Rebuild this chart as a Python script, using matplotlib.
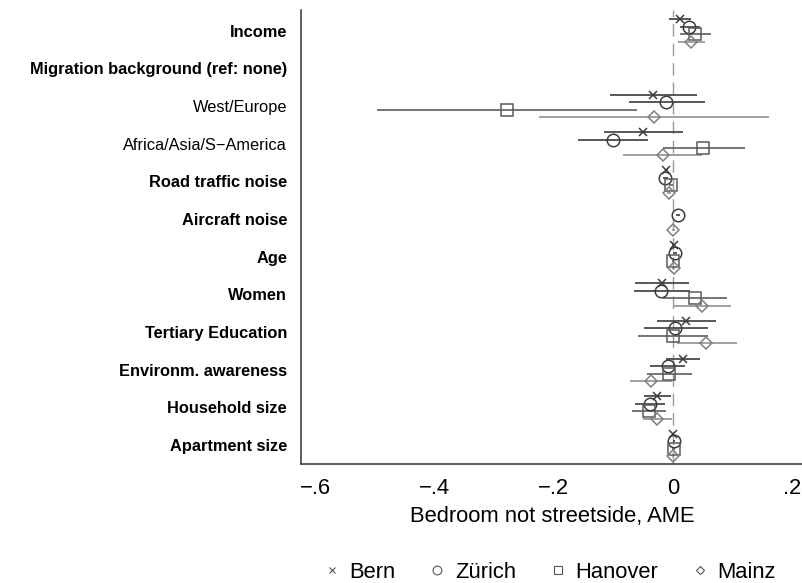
import numpy as np
import matplotlib
matplotlib.use("Agg")
import matplotlib.pyplot as plt
from matplotlib.lines import Line2D

plt.rcParams['font.family'] = ['Liberation Sans', 'DejaVu Sans']

nan = np.nan

# Rows, top to bottom
labels = ['Income', 'Migration background (ref: none)', 'West/Europe',
          'Africa/Asia/S\u2212America', 'Road traffic noise', 'Aircraft noise',
          'Age', 'Women', 'Tertiary Education', 'Environm. awareness',
          'Household size', 'Apartment size']
bold_rows = [True, True, False, False, True, True, True, True, True, True, True, True]

cities = ['Bern', 'Zürich', 'Hanover', 'Mainz']

# Average marginal effects and 95% CI
bern_est = [0.012, nan, -0.033, -0.050, -0.011, nan, 0.001, -0.018, 0.022, 0.017, -0.026, 0.000]
bern_lo = [-0.006, nan, -0.106, -0.116, -0.014, nan, -0.001, -0.063, -0.027, -0.011, -0.049, -0.002]
bern_hi = [0.030, nan, 0.041, 0.017, -0.008, nan, 0.003, 0.027, 0.072, 0.045, -0.004, 0.002]

zurich_est = [0.027, nan, -0.011, -0.101, -0.013, 0.008, 0.003, -0.020, 0.004, -0.009, -0.039, 0.002]
zurich_lo = [0.012, nan, -0.073, -0.160, -0.017, 0.005, 0.000, -0.065, -0.049, -0.039, -0.064, 0.000]
zurich_hi = [0.045, nan, 0.054, -0.042, -0.009, 0.011, 0.006, 0.029, 0.058, 0.020, -0.013, 0.004]

hanover_est = [0.037, nan, -0.279, 0.051, -0.003, nan, 0.000, 0.037, 0.000, -0.006, -0.040, 0.001]
hanover_lo = [0.012, nan, -0.496, -0.016, -0.006, nan, -0.002, -0.016, -0.058, -0.044, -0.068, -0.001]
hanover_hi = [0.063, nan, -0.061, 0.121, 0.000, nan, 0.002, 0.090, 0.059, 0.032, -0.012, 0.003]

mainz_est = [0.031, nan, -0.032, -0.017, -0.007, 0.0005, 0.001, 0.049, 0.056, -0.037, -0.026, 0.000]
mainz_lo = [0.009, nan, -0.225, -0.083, -0.010, -0.002, -0.001, 0.000, 0.006, -0.072, -0.050, -0.002]
mainz_hi = [0.054, nan, 0.161, 0.048, -0.004, 0.003, 0.003, 0.097, 0.107, -0.002, -0.001, 0.002]

xticks = [-0.6, -0.4, -0.2, 0, 0.2]
xticklabels = ['\u2212.6', '\u2212.4', '\u2212.2', '0', '.2']

# marker, size, marker color, line color
styles = {
    'Bern': ('x', 6, '#3c3c3c', '#4a4a4a'),
    'Zürich': ('o', 9, '#3c3c3c', '#4a4a4a'),
    'Hanover': ('s', 8, '#5a5a5a', '#6a6a6a'),
    'Mainz': ('D', 6.3, '#7f7f7f', '#999999'),
}
offsets = [-0.3, -0.1, 0.1, 0.3]


def main():
    fig = plt.figure(figsize=(8.03, 5.83), dpi=100)
    ax = fig.add_axes([301 / 803, 1 - 464 / 583, 502 / 803, 454 / 583])

    data = {
        'Bern': (bern_est, bern_lo, bern_hi),
        'Zürich': (zurich_est, zurich_lo, zurich_hi),
        'Hanover': (hanover_est, hanover_lo, hanover_hi),
        'Mainz': (mainz_est, mainz_lo, mainz_hi),
    }

    # zero reference line
    ax.axvline(0, color='#9a9a9a', lw=1.0, dashes=(9, 5), zorder=1)

    rows = np.arange(len(labels))
    handles = []
    for city, off in zip(cities, offsets):
        est, lo, hi = (np.array(v, dtype=float) for v in data[city])
        marker, ms, mc, lc = styles[city]
        y = rows + off
        ax.hlines(y, lo, hi, color=lc, lw=1.3, zorder=2)
        ax.plot(est, y, linestyle='none', marker=marker, ms=ms, mfc='none',
                mec=mc, mew=1.1, zorder=3)
        handles.append(Line2D([], [], linestyle='none', marker=marker,
                              ms=ms * 0.7, mfc='none', mec='#555555', mew=0.8,
                              label=city))

    ax.set_xlim(-0.6236, 0.218)
    ax.set_ylim(11.5, -0.55)
    ax.set_xticks(xticks)
    ax.set_xticklabels(xticklabels)
    ax.set_yticks(rows)
    ax.set_yticklabels(labels)
    for t, b in zip(ax.get_yticklabels(), bold_rows):
        t.set_fontweight('bold' if b else 'normal')
        t.set_fontsize(11.8)
        t.set_color('black')

    ax.tick_params(axis='x', length=0, pad=10, labelsize=15.8)
    ax.tick_params(axis='y', length=0, pad=10)
    ax.set_xlabel('Bedroom not streetside, AME', fontsize=15.8, labelpad=5)

    for side in ['top', 'right']:
        ax.spines[side].set_visible(False)
    for side in ['left', 'bottom']:
        ax.spines[side].set_color('#333333')
        ax.spines[side].set_linewidth(1.1)

    fig.legend(handles=handles, loc='center', bbox_to_anchor=(550 / 803, 1 - 572 / 583),
               ncol=4, frameon=False, fontsize=15.8, handlelength=0.7,
               handletextpad=0.45, columnspacing=1.55)

    fig.savefig('out.png', dpi=100)


if __name__ == "__main__":
    main()
